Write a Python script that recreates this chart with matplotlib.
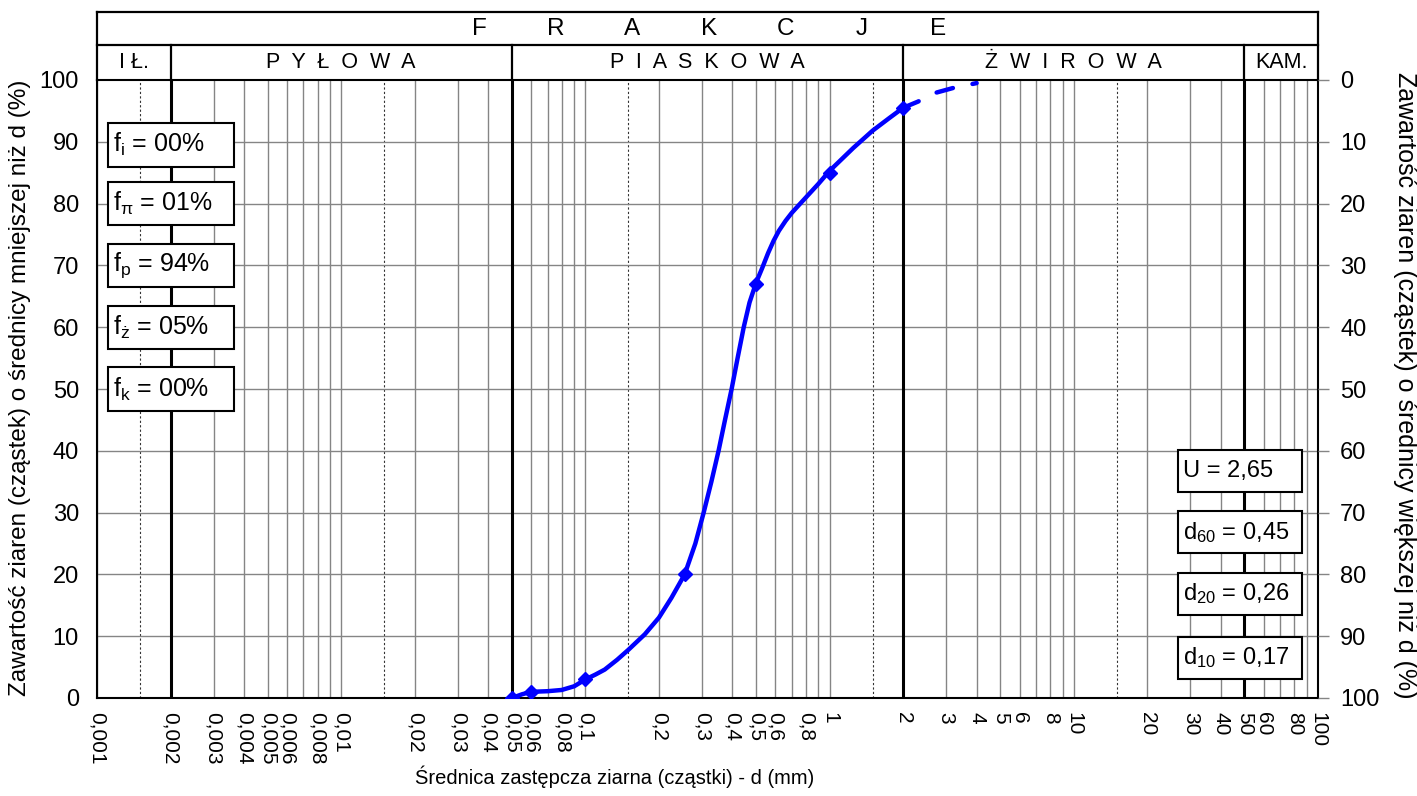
import matplotlib
matplotlib.use('Agg')
import matplotlib.pyplot as plt
import matplotlib.transforms as mtransforms
from matplotlib.patches import Rectangle

plt.rcParams['font.family'] = ['Liberation Sans', 'DejaVu Sans']
plt.rcParams['mathtext.fontset'] = 'custom'
plt.rcParams['mathtext.rm'] = 'Liberation Sans'
plt.rcParams['mathtext.it'] = 'Liberation Sans'

# sieve results (grain diameter mm, % finer)
sieve_d = [0.05, 0.06, 0.1, 0.255, 0.5, 1.0, 2.0]
sieve_p = [0, 1, 3, 20, 67, 85, 95.5]

# grading curve
curve_d = [0.05, 0.055, 0.06, 0.07, 0.08, 0.09, 0.1, 0.11, 0.12, 0.135, 0.15, 0.175, 0.2,
           0.225, 0.255, 0.282, 0.305, 0.328, 0.351, 0.373, 0.397, 0.42, 0.445, 0.47, 0.5,
           0.53, 0.56, 0.59, 0.62, 0.66, 0.7, 0.75, 0.8, 0.9, 1.0, 1.25, 1.5, 1.75, 2.0]
curve_p = [0, 0.6, 1.0, 1.1, 1.3, 1.9, 3.0, 3.8, 4.6, 6.2, 7.8, 10.3, 13.0,
           16.2, 20, 25, 30, 35, 40, 45, 50, 55, 60, 64, 67.2,
           69.6, 72.0, 74.0, 75.6, 77.2, 78.5, 79.8, 81, 83.2, 85.3, 89, 91.8, 93.8, 95.5]

# dashed extrapolation above 2 mm
ext_d = [2.0, 2.3, 2.7, 3.2, 4.0]
ext_p = [95.5, 96.5, 97.9, 98.7, 99.5]

# fraction boundaries and names
bounds = [0.001, 0.002, 0.05, 2, 50, 100]
fraction_names = ['I Ł.', 'P  Y  Ł  O  W  A', 'P  I  A  S  K  O  W  A', 'Ż  W  I  R  O  W  A', 'KAM.']

frac_sub = ['i', r'\pi', 'p', 'ż', 'k']
frac_val = ['00', '01', '94', '05', '00']

param_names = ['U', r'd$_{\mathregular{60}}$', r'd$_{\mathregular{20}}$', r'd$_{\mathregular{10}}$']
param_vals = ['2,65', '0,45', '0,26', '0,17']

xtick_vals = [0.001, 0.002, 0.003, 0.004, 0.005, 0.006, 0.008, 0.01, 0.02, 0.03, 0.04, 0.05,
              0.06, 0.08, 0.1, 0.2, 0.3, 0.4, 0.5, 0.6, 0.8, 1, 2, 3, 4, 5, 6, 8, 10,
              20, 30, 40, 50, 60, 80, 100]
xtick_labels = ['0,001', '0,002', '0,003', '0,004', '0,005', '0,006', '0,008', '0,01', '0,02',
                '0,03', '0,04', '0,05', '0,06', '0,08', '0,1', '0,2', '0,3', '0,4', '0,5',
                '0,6', '0,8', '1', '2', '3', '4', '5', '6', '8', '10', '20', '30', '40',
                '50', '60', '80', '100']

fig = plt.figure(figsize=(14.17, 7.96), dpi=100)
ax = fig.add_axes([97 / 1417, 1 - 698 / 796, 1221 / 1417, 618 / 796])
ax.set_xscale('log')
ax.set_xlim(0.001, 100)
ax.set_ylim(0, 100)

# grid
for n in range(-3, 2):
    for k in range(2, 10):
        v = k * 10.0 ** n
        if any(abs(v - b) < 1e-9 for b in bounds):
            continue
        ax.axvline(v, color='#858585', lw=1.0, zorder=1)
    ax.axvline(10.0 ** n, color='#858585', lw=1.0, zorder=1)
    ax.axvline(1.5 * 10.0 ** n, color='#333333', lw=0.8, ls=(0, (2, 2)), zorder=1)
for y in range(10, 100, 10):
    ax.axhline(y, color='#858585', lw=1.0, zorder=1)
for b in bounds[1:-1]:
    ax.axvline(b, color='black', lw=2.2, zorder=2)

# grading curve
ax.plot(curve_d, curve_p, color='#0000ff', lw=3.2, solid_capstyle='round',
        solid_joinstyle='round', zorder=5)
ax.plot(sieve_d, sieve_p, ls='none', marker='D', ms=7, color='#0000ff', zorder=6)
ax.plot(ext_d, ext_p, color='#0000ff', lw=3.2, dashes=(3.8, 4.5), dash_capstyle='round',
        zorder=5)

# axes / ticks
ax.set_xticks(xtick_vals)
ax.set_xticklabels(xtick_labels, rotation=270, fontsize=15)
ax.set_xticks([0.001, 0.01, 0.1, 1, 10, 100], minor=True)
ax.xaxis.set_minor_formatter(plt.NullFormatter())
ax.tick_params(axis='x', which='major', length=0, pad=10)
ax.tick_params(axis='x', which='minor', length=5, width=1, direction='out')
for lab in ax.get_xticklabels():
    lab.set_verticalalignment('top')
    lab.set_horizontalalignment('center')
ax.set_yticks(range(0, 101, 10))
ax.tick_params(axis='y', length=0, labelsize=17, pad=13)
for s in ax.spines.values():
    s.set_linewidth(1.5)

ax2 = ax.twinx()
ax2.set_ylim(100, 0)
ax2.set_yticks(range(0, 101, 10))
ax2.tick_params(axis='y', length=8, width=1, color='#858585', labelsize=17, pad=8)
for s in ax2.spines.values():
    s.set_visible(False)

# header table
tr = mtransforms.blended_transform_factory(ax.transData, ax.transAxes)
y_top, y_mid = 1.110, 1.0566
hl = dict(color='black', lw=1.6, transform=tr, clip_on=False)
ax.plot([0.001, 100], [y_top, y_top], **hl)
ax.plot([0.001, 100], [y_mid, y_mid], **hl)
ax.plot([0.001, 0.001], [1, y_top], **hl)
ax.plot([100, 100], [1, y_top], **hl)
for b in bounds[1:-1]:
    ax.plot([b, b], [1, y_mid], **hl)
for i, name in enumerate(fraction_names):
    xc = (bounds[i] * bounds[i + 1]) ** 0.5
    ax.text(xc, (1 + y_mid) / 2, name, transform=tr, ha='center', va='center', fontsize=15.5)
for i, ch in enumerate('FRAKCJE'):
    ax.text(0.3129 + 0.0627 * i, (y_mid + y_top) / 2, ch, transform=ax.transAxes,
            ha='center', va='center', fontsize=17.5)

# fraction boxes (left)
box_y = [89.5, 80, 70, 60, 50]
for yc, sub, val in zip(box_y, frac_sub, frac_val):
    ax.add_patch(Rectangle((0.009, yc / 100 - 0.035), 0.1032, 0.07, transform=ax.transAxes,
                           facecolor='white', edgecolor='black', lw=1.5, zorder=8))
    ax.text(0.013, yc / 100, 'f$_{\\mathregular{' + sub + '}}$ = ' + val + '%',
            transform=ax.transAxes, ha='left', va='center', fontsize=18, zorder=9)

# parameter boxes (right)
pbox_y = [0.367, 0.268, 0.169, 0.0655]
for yc, name, val in zip(pbox_y, param_names, param_vals):
    ax.add_patch(Rectangle((0.8853, yc - 0.034), 0.1016, 0.068, transform=ax.transAxes,
                           facecolor='white', edgecolor='black', lw=1.5, zorder=8))
    ax.text(0.8895, yc, name + ' = ' + val, transform=ax.transAxes, ha='left',
            va='center', fontsize=17, zorder=9)

# axis titles
fig.text(20 / 1417, 1 - 388 / 796, 'Zawartość ziaren (cząstek) o średnicy mniejszej niż d (%)',
         rotation=90, ha='center', va='center', fontsize=17.5)
fig.text(1405 / 1417, 1 - 385 / 796, 'Zawartość ziaren (cząstek) o średnicy większej niż d (%)',
         rotation=270, ha='center', va='center', fontsize=18)
fig.text(615 / 1417, 1 - 777 / 796, 'Średnica zastępcza ziarna (cząstki) - d (mm)',
         ha='center', va='center', fontsize=14.5)

fig.savefig('out.png', dpi=100)
